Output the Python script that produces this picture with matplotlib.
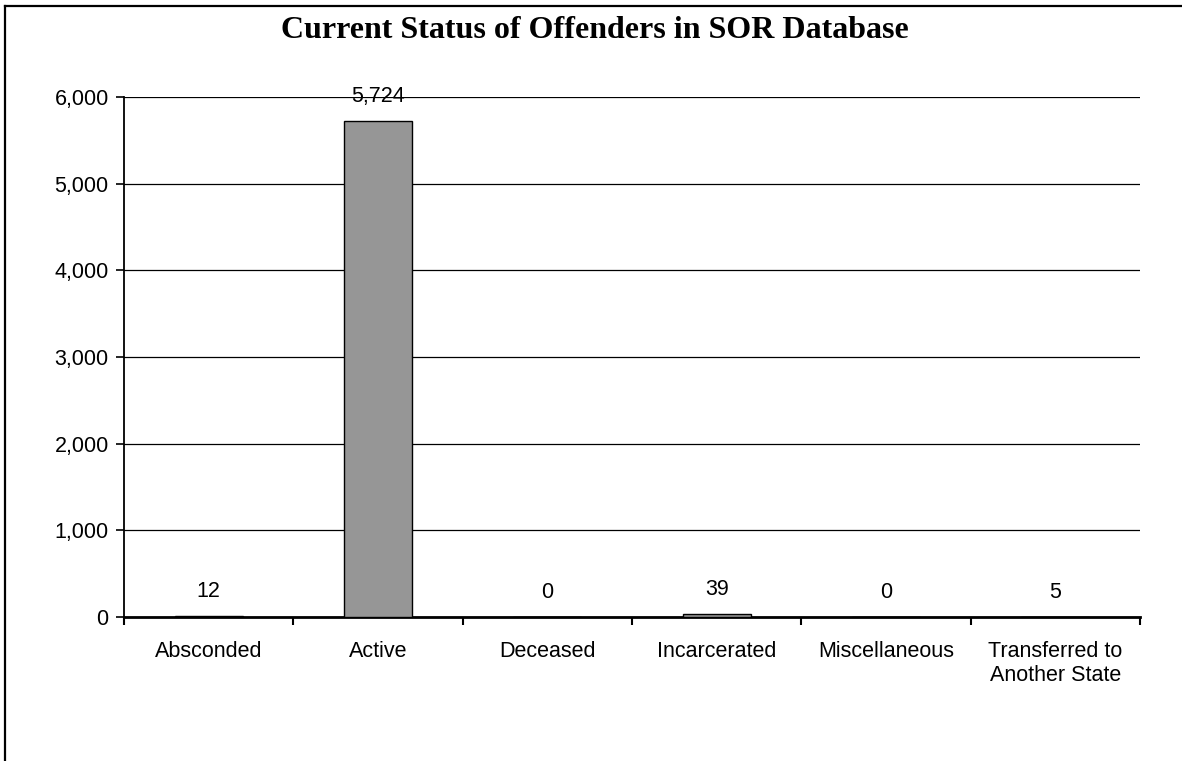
import matplotlib
matplotlib.use("Agg")
import matplotlib.pyplot as plt
from matplotlib.lines import Line2D
from matplotlib.ticker import FuncFormatter, FixedLocator, NullFormatter

categories = ["Absconded", "Active", "Deceased", "Incarcerated", "Miscellaneous",
              "Transferred to\nAnother State"]
values = [12, 5724, 0, 39, 0, 5]
title = "Current Status of Offenders in SOR Database"

W, H = 1182, 761
fig = plt.figure(figsize=(W / 100, H / 100), dpi=100)
fig.patch.set_facecolor("white")

# outer frame (left and top edges visible)
fig.add_artist(Line2D([5 / W, 5 / W], [0, 1 - 5.5 / H], color="black", lw=1.6,
                      transform=fig.transFigure))
fig.add_artist(Line2D([5 / W, 1], [1 - 5.5 / H, 1 - 5.5 / H], color="black", lw=1.6,
                      transform=fig.transFigure))

left, right, top, bottom = 124, 1140, 97, 617
ax = fig.add_axes([left / W, 1 - bottom / H, (right - left) / W, (bottom - top) / H])

x = list(range(len(categories)))
ax.bar(x, values, width=0.4, color="#969696", edgecolor="black", linewidth=1.0, zorder=3)

ax.set_xlim(-0.5, len(categories) - 0.5)
ax.set_ylim(0, 6000)
ax.set_yticks(range(0, 6001, 1000))
ax.yaxis.set_major_formatter(FuncFormatter(lambda v, p: f"{int(v):,}"))
ax.yaxis.grid(True, color="black", linewidth=0.9, zorder=0)

ax.xaxis.set_major_locator(FixedLocator([i - 0.5 for i in range(len(categories) + 1)]))
ax.xaxis.set_major_formatter(NullFormatter())
ax.xaxis.set_minor_locator(FixedLocator(x))
ax.set_xticklabels(categories, minor=True)
ax.tick_params(axis="x", which="minor", length=0, pad=17)
ax.tick_params(axis="x", which="major", length=6, width=1.5, direction="out")
ax.tick_params(axis="y", length=6, width=1.2, direction="out", pad=5)

for lbl in ax.get_xticklabels(minor=True) + ax.get_yticklabels():
    lbl.set_fontfamily("Liberation Sans")
    lbl.set_fontsize(15.5)

for s in ["top", "right"]:
    ax.spines[s].set_visible(False)
ax.spines["left"].set_linewidth(1.3)
ax.spines["bottom"].set_linewidth(2.0)

for xi, v in zip(x, values):
    ax.annotate(f"{v:,}", (xi, v), xytext=(0, 14), textcoords="offset pixels",
                ha="center", va="bottom", fontsize=15.5, family="Liberation Sans")

fig.text(595 / W, 1 - 30 / H, title, ha="center", va="center",
         fontsize=23, fontweight="bold", family="Liberation Serif")

fig.savefig("out.png", dpi=100, facecolor="white")
